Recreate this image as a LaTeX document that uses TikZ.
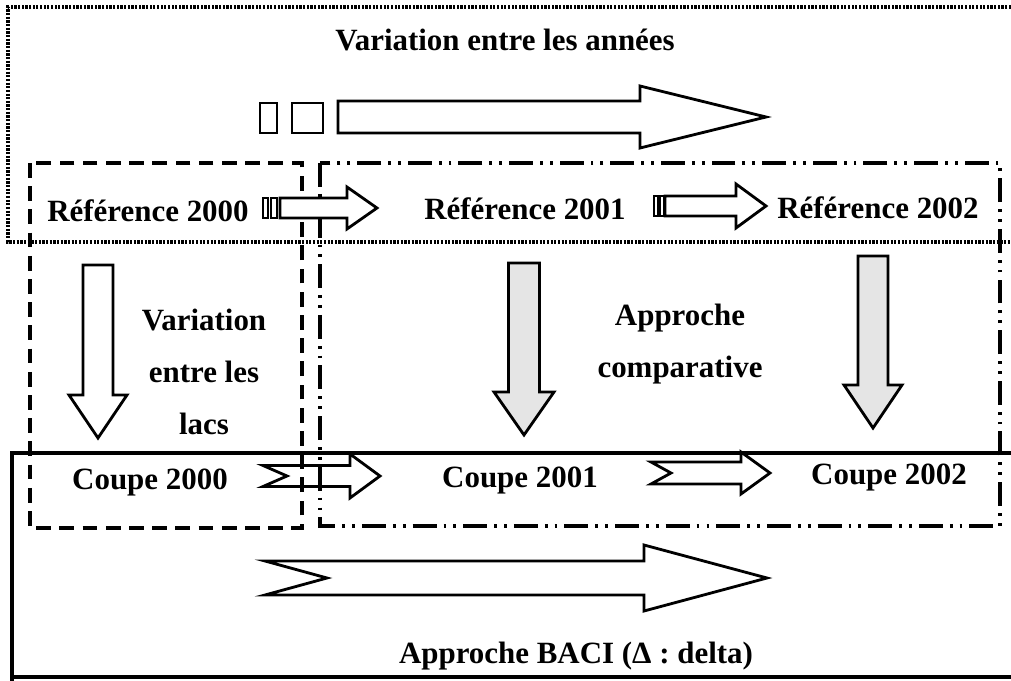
\documentclass[tikz,border=0pt]{standalone}
\usepackage{fontspec}
\setmainfont{Liberation Serif}
\usetikzlibrary{positioning}
\definecolor{lightshade}{gray}{0.9}
% block arrow pointing along local x: style, notch, head base, tip, body half, head half
\newcommand{\fatarrow}[6]{%
  \draw[#1] (0,#5) -- (#3,#5) -- (#3,#6) -- (#4,0) -- (#3,-#6) -- (#3,-#5) -- (0,-#5) -- (#2,0) -- cycle;}
\tikzset{
lbl/.style = {font=\fontsize{22}{37}\selectfont\bfseries, align=center, inner sep=0pt},
arrowbody/.style = {draw, line width=2pt, fill=white, line join=miter},
openarrow/.style = {draw, line width=2pt, line join=miter},
greyarrow/.style = {arrowbody, fill=lightshade},
stripe/.style = {draw, line width=1.5pt},
yearsbox/.style = {line width=2.4pt, dash pattern=on 1.6pt off 1pt},
lakesbox/.style = {line width=2.4pt, dash pattern=on 10.5pt off 6pt},
compbox/.style = {line width=2.4pt, dash pattern=on 17pt off 5pt on 2pt off 5pt on 2pt off 5pt},
bacibox/.style = {line width=2.5pt},
}
\begin{document}
\begin{tikzpicture}[x=0.025cm, y=-0.025cm]
  \useasboundingbox (0,0) rectangle (1011,681);
  % frames
  \draw[yearsbox] (1011,7) -- (8,7) -- (8,242) -- (1011,242);
  \draw[lakesbox] (30,163) rectangle (302,528);
  \draw[compbox] (320,163) rectangle (1000,526);
  \draw[bacibox] (1011,453) -- (12,453) -- (12,681);
  \draw[bacibox] (12,677) -- (1011,677);
  % years arrow
  \draw[stripe] (260,103) rectangle (277,133);
  \draw[stripe] (292,103) rectangle (323,133);
  \begin{scope}[shift={(338,117)}]
    \fatarrow{arrowbody}{0}{302}{428}{16}{31}
  \end{scope}
  % reference arrows
  \draw[stripe] (263,198) rectangle (268,218);
  \draw[stripe] (271,198) rectangle (277,218);
  \begin{scope}[shift={(280,208)}]
    \fatarrow{arrowbody}{0}{67}{97}{10}{21}
  \end{scope}
  \draw[stripe] (654,196) rectangle (658,216);
  \draw[stripe] (660,196) rectangle (664,216);
  \begin{scope}[shift={(665,206)}]
    \fatarrow{arrowbody}{0}{71}{101}{10}{22}
  \end{scope}
  % down arrows
  \begin{scope}[shift={(98,265)}, rotate=-90]
    \fatarrow{arrowbody}{0}{130}{173}{15}{29}
  \end{scope}
  \begin{scope}[shift={(524,263)}, rotate=-90]
    \fatarrow{greyarrow}{0}{129}{172}{15.5}{30}
  \end{scope}
  \begin{scope}[shift={(873,256)}, rotate=-90]
    \fatarrow{greyarrow}{0}{129}{172}{15}{29}
  \end{scope}
  % cut arrows
  \begin{scope}[shift={(263,476)}]
    \fatarrow{openarrow}{24}{87}{117}{10.5}{22}
  \end{scope}
  \begin{scope}[shift={(651,473)}]
    \fatarrow{openarrow}{20}{90}{119}{11}{21}
  \end{scope}
  \begin{scope}[shift={(265,578)}]
    \fatarrow{arrowbody}{62}{379}{502}{17}{33}
  \end{scope}
  % texts
  \node[lbl] (annees) at (505,40) {Variation entre les années};
  \node[lbl] (ref00) at (148,211) {Référence 2000};
  \node[lbl] (ref01) at (525,209) {Référence 2001};
  \node[lbl] (ref02) at (878,208) {Référence 2002};
  \node[lbl] (lacs) at (204,372) {Variation\\entre les\\lacs};
  \node[lbl] (comparative) at (680,344) {Approche\\comparative};
  \node[lbl] (coupe00) at (150,483) {Coupe 2000};
  \node[lbl] (coupe01) at (520,481) {Coupe 2001};
  \node[lbl] (coupe02) at (889,478) {Coupe 2002};
  \node[lbl] (baci) at (576,656) {Approche BACI (Δ : delta)};
\end{tikzpicture}
\end{document}
